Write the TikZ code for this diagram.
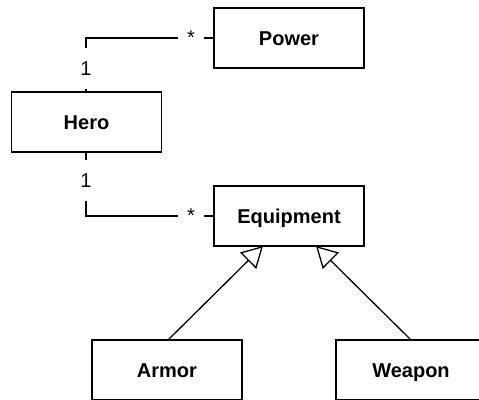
\documentclass[tikz,border=0pt]{standalone}
\usepackage{fontspec}
\setmainfont{Liberation Sans}
\usetikzlibrary{arrows.meta}
\begin{document}
\begin{tikzpicture}[x=1pt,y=-1pt,
  cls/.style={draw, line width=1.3pt, minimum width=150pt, minimum height=60pt, inner sep=0pt,
    font=\fontsize{20}{24}\selectfont\bfseries, text height=14.3pt, text depth=0pt},
  conn/.style={line width=1.3pt},
  mult/.style={fill=white, inner sep=0pt, minimum width=26pt, minimum height=41pt,
    font=\fontsize{20}{24}\selectfont, text height=14.3pt, text depth=0pt},
  star/.style={fill=white, inner xsep=0pt, inner ysep=1pt, minimum width=26pt, anchor=base,
    font=\fontsize{20}{24}\selectfont},
  inherit/.style={line width=1.3pt, -{Triangle[open, length=21pt, width=23pt]}}]
\useasboundingbox (0,0) rectangle (479,399);
\node[cls] (power) at (289,38) {Power};
\node[cls] (hero) at (86.5,122) {Hero};
\node[cls] (equip) at (289,216) {Equipment};
\node[cls] (armor) at (167,370) {Armor};
\node[cls] (weapon) at (411,370) {Weapon};
\coordinate (tipA) at (263,246);
\coordinate (tipW) at (316,246);
\coordinate (baseA) at (168,340);
\coordinate (baseW) at (411,340);
\draw[conn] (86,92) |- (power.west);
\draw[conn] (86,152) |- (equip.west);
\node[mult] (m1) at (86,68.5) {1};
\node[mult] (m2) at (86,180) {1};
\node[star] (s1) at (191,44.5) {*};
\node[star] (s2) at (191,222.5) {*};
\draw[inherit] (baseA) -- (tipA);
\draw[inherit] (baseW) -- (tipW);
\end{tikzpicture}
\end{document}
